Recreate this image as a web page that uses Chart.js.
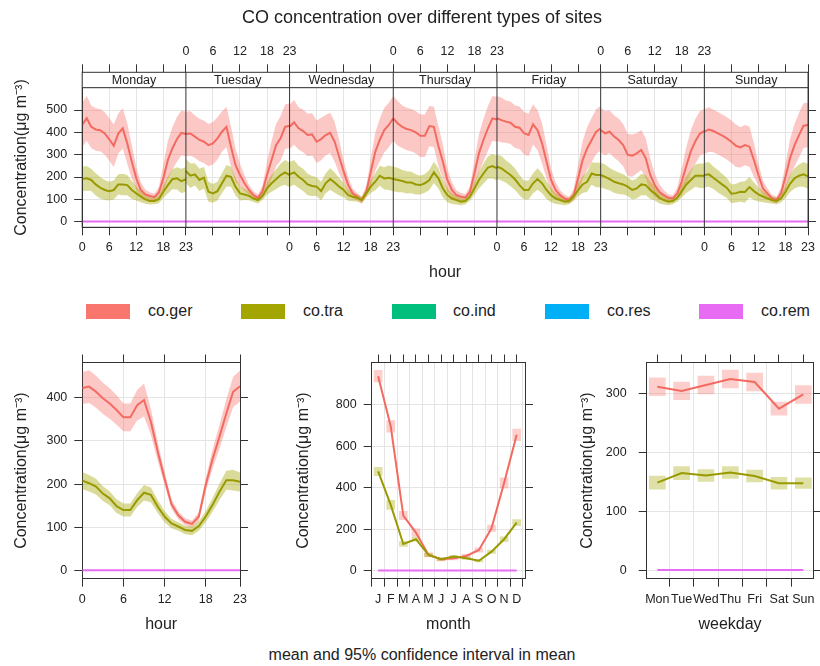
<!DOCTYPE html>
<html>
<head>
<meta charset="utf-8">
<script src="https://cdn.jsdelivr.net/npm/chart.js@4.4.1/dist/chart.umd.min.js"></script>
<style>
  body { margin: 0; background: #fff; font-family: 'Liberation Sans', Arial, sans-serif; color: #222; }
  #wrap { position: relative; width: 820px; height: 666px; overflow: hidden; }
  canvas { position: absolute; }
  .lab { position: absolute; white-space: nowrap; }
  .box { position: absolute; top: 304px; width: 44px; height: 15px; }
</style>
</head>
<body>
<div id="wrap">
  <canvas id="week" width="820" height="290" style="left:0;top:0"></canvas>
  <canvas id="hour" width="270" height="300" style="left:0;top:340px"></canvas>
  <canvas id="month" width="280" height="300" style="left:270px;top:340px"></canvas>
  <canvas id="wday" width="270" height="300" style="left:550px;top:340px"></canvas>

  <div class="lab" style="left:222px;width:400px;top:7px;line-height:20px;text-align:center;font-size:18px">CO concentration over different types of sites</div>

  <div class="box" style="left:86px;background:#F8766D"></div>
  <div class="lab" style="left:148px;top:301px;line-height:20px;font-size:16px">co.ger</div>
  <div class="box" style="left:241px;background:#A3A500"></div>
  <div class="lab" style="left:303px;top:301px;line-height:20px;font-size:16px">co.tra</div>
  <div class="box" style="left:392px;background:#00BF7D"></div>
  <div class="lab" style="left:453px;top:301px;line-height:20px;font-size:16px">co.ind</div>
  <div class="box" style="left:545px;background:#00B0F6"></div>
  <div class="lab" style="left:607px;top:301px;line-height:20px;font-size:16px">co.res</div>
  <div class="box" style="left:699px;background:#E76BF3"></div>
  <div class="lab" style="left:761px;top:301px;line-height:20px;font-size:16px">co.rem</div>

  <div class="lab" style="left:222px;width:400px;top:645px;line-height:20px;text-align:center;font-size:16px">mean and 95% confidence interval in mean</div>
</div>
<script>
// CO concentration by site type: day-of-week x hour, hour, month and weekday panels
const FONT = "'Liberation Sans', Arial, sans-serif";
const days = ['Monday', 'Tuesday', 'Wednesday', 'Thursday', 'Friday', 'Saturday', 'Sunday'];
const monthLabels = ['J', 'F', 'M', 'A', 'M', 'J', 'J', 'A', 'S', 'O', 'N', 'D'];
const weekdayLabels = ['Mon', 'Tue', 'Wed', 'Thu', 'Fri', 'Sat', 'Sun'];
const hours = [0, 1, 2, 3, 4, 5, 6, 7, 8, 9, 10, 11, 12, 13, 14, 15, 16, 17, 18, 19, 20, 21, 22, 23];

// day x hour means (one row per day, Monday first)
const weekGer = [
  [433, 463, 425, 413, 410, 395, 369, 340, 395, 418, 350, 269, 194, 142, 122, 115, 110, 131, 194, 276, 328, 369, 398, 393],
  [393, 395, 381, 366, 358, 343, 351, 373, 403, 425, 336, 254, 209, 172, 142, 119, 107, 137, 209, 276, 343, 373, 425, 430],
  [425, 445, 418, 406, 388, 391, 358, 370, 388, 398, 358, 291, 224, 164, 127, 112, 97, 134, 221, 313, 366, 410, 433, 463],
  [463, 440, 425, 415, 410, 400, 385, 385, 428, 425, 340, 269, 187, 142, 119, 112, 109, 134, 216, 306, 366, 418, 463, 458],
  [463, 455, 448, 443, 425, 421, 396, 388, 436, 410, 351, 269, 187, 142, 119, 104, 97, 119, 194, 276, 328, 366, 403, 418],
  [410, 396, 403, 381, 366, 343, 299, 296, 306, 321, 284, 209, 164, 134, 119, 107, 104, 127, 180, 250, 315, 360, 395, 405],
  [403, 413, 406, 396, 385, 373, 358, 340, 333, 343, 336, 276, 209, 149, 127, 104, 97, 127, 201, 284, 343, 388, 430, 433]
];
const weekTra = [
  [191, 194, 187, 167, 152, 142, 137, 142, 167, 167, 164, 142, 127, 112, 100, 93, 93, 101, 134, 164, 190, 194, 182, 190],
  [227, 206, 212, 187, 197, 134, 127, 137, 172, 206, 201, 157, 127, 122, 116, 104, 97, 115, 149, 172, 190, 209, 221, 209],
  [212, 221, 201, 187, 167, 160, 157, 137, 172, 191, 175, 157, 142, 119, 112, 107, 97, 127, 157, 179, 206, 194, 197, 191],
  [191, 187, 182, 176, 176, 167, 164, 172, 187, 221, 194, 149, 119, 104, 97, 90, 93, 112, 149, 187, 216, 242, 249, 239],
  [246, 239, 224, 209, 190, 164, 142, 142, 172, 191, 172, 142, 119, 104, 97, 90, 93, 112, 142, 167, 179, 216, 209, 209],
  [209, 201, 191, 179, 172, 167, 157, 142, 149, 167, 164, 142, 127, 107, 97, 90, 93, 107, 137, 167, 187, 206, 206, 206],
  [209, 212, 197, 181, 166, 151, 125, 128, 134, 133, 155, 137, 122, 112, 104, 97, 93, 104, 134, 170, 194, 206, 212, 203]
];
// half width of the 95% interval by hour in the day x hour panel
const weekGerHw = [100, 100, 95, 95, 95, 95, 95, 95, 90, 90, 90, 75, 50, 35, 22, 17, 15, 25, 60, 85, 95, 100, 100, 100];
const weekTraHw = [55, 55, 50, 50, 48, 45, 42, 42, 45, 48, 45, 40, 32, 25, 20, 16, 15, 18, 28, 38, 45, 50, 55, 55];

// hour panel
const hourGer = [422, 425, 413, 398, 386, 371, 354, 354, 382, 394, 344, 275, 213, 154, 128, 113, 108, 125, 198, 258, 309, 363, 413, 426];
const hourGerHw = [37, 38, 37, 36, 35, 34, 32, 32, 35, 38, 30, 22, 15, 11, 9, 8, 8, 10, 15, 22, 28, 32, 35, 36];
const hourTra = [208, 202, 194, 178, 167, 149, 140, 140, 163, 180, 175, 148, 125, 109, 102, 94, 92, 103, 125, 152, 182, 209, 209, 205];
const hourTraHw = [20, 19, 18, 17, 16, 16, 15, 15, 16, 18, 17, 15, 13, 11, 10, 10, 10, 11, 13, 16, 19, 22, 24, 22];
const hourRem = [1, 1, 1, 1, 1, 1, 1, 1, 1, 1, 1, 1, 1, 1, 1, 1, 1, 1, 1, 1, 1, 1, 1, 1];

// month panel
const monthGer = [939, 697, 266, 184, 76, 55, 60, 71, 100, 205, 423, 656];
const monthGerHw = [28, 28, 20, 18, 10, 8, 8, 8, 10, 15, 25, 28];
const monthTra = [479, 318, 129, 152, 76, 55, 68, 60, 48, 92, 152, 232];
const monthTraHw = [20, 22, 12, 10, 8, 6, 6, 6, 6, 8, 12, 15];
const monthRem = [1, 1, 1, 1, 1, 1, 1, 1, 1, 1, 1, 1];

// weekday panel
const wdayGer = [311, 304, 314, 324, 319, 274, 298];
const wdayGerHw = [15, 15, 15, 15, 15, 11, 15];
const wdayTra = [149, 165, 161, 166, 160, 148, 148];
const wdayTraHw = [11, 11, 10, 10, 10, 10, 9];
const wdayRem = [1, 1, 1, 1, 1, 1, 1];

const weekYTicks = [0, 100, 200, 300, 400, 500];
const hourYTicks = [0, 100, 200, 300, 400];
const monthYTicks = [0, 200, 400, 600, 800];
const wdayYTicks = [0, 100, 200, 300];
const hourXTicks = [0, 6, 12, 18, 23];

const GER = '#F26A60', TRA = '#989A00', REM = '#E76BF3';
const GER_BAND = 'rgba(248,118,109,0.4)', TRA_BAND = 'rgba(163,165,0,0.4)';
const GER_BOX = 'rgba(248,118,109,0.35)', TRA_BOX = 'rgba(163,165,0,0.35)';
const GRID = '#e4e4e4', AXIS = '#333', TXT = '#222';
const TICKFONT = { family: FONT, size: 12.5 };
const TITLEFONT = { family: FONT, size: 16 };
const YTITLE = 'Concentration(\u03bcg m\u207b\u00b3)';

Chart.defaults.font.family = FONT;
Chart.defaults.color = TXT;
Chart.defaults.animation = false;

const clear = 'rgba(0,0,0,0)';
function lineSet(xs, ys, col) {
  return { data: xs.map((x, i) => ({ x, y: ys[i] })), borderColor: col, borderWidth: 2, pointRadius: 0, fill: false, tension: 0 };
}
function bandSets(xs, mean, hw, fillCol) {
  return [
    { data: xs.map((x, i) => ({ x, y: mean[i] + hw[i] })), fill: '+1', backgroundColor: fillCol, borderColor: clear, borderWidth: 0, pointRadius: 0 },
    { data: xs.map((x, i) => ({ x, y: mean[i] - hw[i] })), fill: false, borderColor: clear, borderWidth: 0, pointRadius: 0 }
  ];
}
function boxSet(xs, mean, hw, col, w) {
  return { type: 'bar', data: xs.map((x, i) => ({ x, y: [mean[i] - hw[i], mean[i] + hw[i]] })), backgroundColor: col, borderWidth: 0, barThickness: w, grouped: false };
}
const setTicks = list => s => { s.ticks = list.map(v => ({ value: v })); };

// ---------- day x hour panel ----------
const weekTicks = [];
for (let d = 0; d < 7; d++) [0, 6, 12, 18].forEach(h => weekTicks.push(d * 23 + h));
weekTicks.push(161);

// lattice alternates labels: bottom for Mon/Wed/Fri/Sun, top for Tue/Thu/Sat
function weekLabel(v, want) {
  const d = Math.floor(v / 23), h = v - d * 23;
  if (h !== 0) return d % 2 === want ? String(h) : '';
  if (d < 7 && d % 2 === want) return '0';
  if (d > 0 && (d - 1) % 2 === want) return '23';
  return '';
}

const weekSets = [];
for (let d = 0; d < 7; d++) {
  const xs = hours.map(h => d * 23 + h);
  weekSets.push(lineSet(xs, hourRem, REM));
  weekSets.push(lineSet(xs, weekTra[d], TRA));
  weekSets.push(lineSet(xs, weekGer[d], GER));
}
for (let d = 0; d < 7; d++) {
  const xs = hours.map(h => d * 23 + h);
  weekSets.push(...bandSets(xs, weekTra[d], weekTraHw, TRA_BAND));
}
for (let d = 0; d < 7; d++) {
  const xs = hours.map(h => d * 23 + h);
  weekSets.push(...bandSets(xs, weekGer[d], weekGerHw, GER_BAND));
}

const STRIP = 15.4;
const stripPlugin = {
  id: 'strip',
  afterDraw(chart) {
    const { ctx, chartArea: a } = chart;
    const x = chart.scales.x;
    const top = a.top - STRIP;
    ctx.save();
    ctx.fillStyle = '#fff';
    ctx.fillRect(a.left, top, a.right - a.left, STRIP);
    ctx.strokeStyle = AXIS;
    ctx.lineWidth = 1;
    ctx.strokeRect(a.left, top, a.right - a.left, a.bottom - top);
    ctx.beginPath();
    ctx.moveTo(a.left, a.top);
    ctx.lineTo(a.right, a.top);
    for (let d = 1; d < 7; d++) {
      const px = x.getPixelForValue(d * 23);
      ctx.moveTo(px, top);
      ctx.lineTo(px, a.bottom);
    }
    ctx.stroke();
    ctx.fillStyle = TXT;
    ctx.font = '12.5px ' + FONT;
    ctx.textAlign = 'center';
    ctx.textBaseline = 'middle';
    days.forEach((name, i) => ctx.fillText(name, x.getPixelForValue(i * 23 + 11.5), top + STRIP / 2 + 0.5));
    ctx.restore();
  }
};

new Chart(document.getElementById('week'), {
  type: 'line',
  data: { datasets: weekSets },
  plugins: [stripPlugin],
  options: {
    responsive: false,
    devicePixelRatio: 1,
    layout: { padding: 0 },
    plugins: { legend: { display: false }, tooltip: { enabled: false } },
    scales: {
      x: {
        type: 'linear', position: 'bottom', min: 0, max: 161,
        afterBuildTicks: setTicks(weekTicks),
        ticks: { autoSkip: false, maxRotation: 0, padding: 5, font: TICKFONT, color: TXT, callback: v => weekLabel(v, 0) },
        grid: { color: c => (c.tick && c.tick.value % 23 === 0) ? clear : GRID, tickColor: AXIS, tickLength: 8 },
        border: { color: AXIS },
        title: { display: true, text: 'hour', font: TITLEFONT, color: TXT, padding: { top: 0, bottom: 7.4 } },
        afterFit: s => { s.height = 62.7; }
      },
      x2: {
        type: 'linear', position: 'top', min: 0, max: 161,
        afterBuildTicks: setTicks(weekTicks),
        ticks: { autoSkip: false, maxRotation: 0, padding: 5, font: TICKFONT, color: TXT, callback: v => weekLabel(v, 1) },
        grid: { drawOnChartArea: false, tickColor: AXIS, tickLength: 8 + STRIP },
        border: { color: AXIS },
        afterFit: s => { s.height = 87.7; }
      },
      y: {
        type: 'linear', position: 'left', min: -25, max: 600,
        afterBuildTicks: setTicks(weekYTicks),
        ticks: { padding: 7, font: TICKFONT, color: TXT },
        grid: { color: GRID, tickColor: AXIS, tickLength: 8 },
        border: { color: AXIS },
        title: { display: true, text: YTITLE, font: TITLEFONT, color: TXT, padding: { top: 12.4, bottom: 0 } },
        afterFit: s => { s.width = 82.2; }
      },
      y2: {
        type: 'linear', position: 'right', min: -25, max: 600,
        afterBuildTicks: setTicks(weekYTicks),
        ticks: { font: TICKFONT, callback: () => '' },
        grid: { drawOnChartArea: false, tickColor: AXIS, tickLength: 8 },
        border: { color: AXIS },
        afterFit: s => { s.width = 6.3; }
      }
    }
  }
});

// ---------- bottom panels ----------
function panel(id, o) {
  new Chart(document.getElementById(id), {
    type: 'line',
    data: { datasets: o.sets },
    options: {
      responsive: false,
      devicePixelRatio: 1,
      layout: { padding: 0 },
      plugins: { legend: { display: false }, tooltip: { enabled: false } },
      scales: {
        x: {
          type: 'linear', position: 'bottom', min: o.xmin, max: o.xmax, offset: false,
          afterBuildTicks: setTicks(o.xticks),
          ticks: { autoSkip: false, maxRotation: 0, padding: 5, font: TICKFONT, color: TXT, callback: o.xlabel },
          grid: { color: GRID, tickColor: AXIS, tickLength: 8 },
          border: { color: AXIS },
          title: { display: true, text: o.xtitle, font: TITLEFONT, color: TXT, padding: { top: 0, bottom: 5.4 } },
          afterFit: s => { s.height = 61.3; }
        },
        x2: {
          type: 'linear', position: 'top', min: o.xmin, max: o.xmax,
          afterBuildTicks: setTicks(o.xticks),
          ticks: { autoSkip: false, font: TICKFONT, callback: () => '' },
          grid: { drawOnChartArea: false, tickColor: AXIS, tickLength: 8 },
          border: { color: AXIS },
          afterFit: s => { s.height = 22.5; }
        },
        y: {
          type: 'linear', position: 'left', min: o.ymin, max: o.ymax,
          afterBuildTicks: setTicks(o.yticks),
          ticks: { padding: o.ypad, font: TICKFONT, color: TXT },
          grid: { color: GRID, tickColor: AXIS, tickLength: 8 },
          border: { color: AXIS },
          title: { display: true, text: YTITLE, font: TITLEFONT, color: TXT, padding: { top: o.tpad, bottom: 0 } },
          afterFit: s => { s.width = o.yw; }
        },
        y2: {
          type: 'linear', position: 'right', min: o.ymin, max: o.ymax,
          afterBuildTicks: setTicks(o.yticks),
          ticks: { font: TICKFONT, callback: () => '' },
          grid: { drawOnChartArea: false, tickColor: AXIS, tickLength: 8 },
          border: { color: AXIS },
          afterFit: s => { s.width = o.y2w; }
        }
      }
    }
  });
}

panel('hour', {
  sets: [
    lineSet(hours, hourRem, REM),
    lineSet(hours, hourTra, TRA),
    lineSet(hours, hourGer, GER),
    ...bandSets(hours, hourTra, hourTraHw, TRA_BAND),
    ...bandSets(hours, hourGer, hourGerHw, GER_BAND)
  ],
  xmin: 0, xmax: 23, xticks: hourXTicks, xlabel: v => String(v), xtitle: 'hour',
  ymin: -18.5, ymax: 480.7, yticks: hourYTicks, ypad: 7, tpad: 12.4, yw: 82.3, y2w: 30
});

const monthX = monthLabels.map((m, i) => i + 1);
panel('month', {
  sets: [
    lineSet(monthX, monthRem, REM),
    lineSet(monthX, monthTra, TRA),
    lineSet(monthX, monthGer, GER),
    boxSet(monthX, monthTra, monthTraHw, TRA_BOX, 8),
    boxSet(monthX, monthGer, monthGerHw, GER_BOX, 8)
  ],
  xmin: 0.49, xmax: 12.66, xticks: monthX, xlabel: v => monthLabels[v - 1] || '', xtitle: 'month',
  ymin: -38.6, ymax: 1005, yticks: monthYTicks, ypad: 7, tpad: 24.4, yw: 101.7, y2w: 25
});

const wdayX = weekdayLabels.map((w, i) => i + 1);
panel('wday', {
  sets: [
    lineSet(wdayX, wdayRem, REM),
    lineSet(wdayX, wdayTra, TRA),
    lineSet(wdayX, wdayGer, GER),
    boxSet(wdayX, wdayTra, wdayTraHw, TRA_BOX, 16),
    boxSet(wdayX, wdayGer, wdayGerHw, GER_BOX, 16)
  ],
  xmin: 0.564, xmax: 7.41, xticks: wdayX, xlabel: v => weekdayLabels[v - 1] || '', xtitle: 'weekday',
  ymin: -13.5, ymax: 352, yticks: wdayYTicks, ypad: 12, tpad: 28.4, yw: 96.7, y2w: 6.7
});
</script>
</body>
</html>
